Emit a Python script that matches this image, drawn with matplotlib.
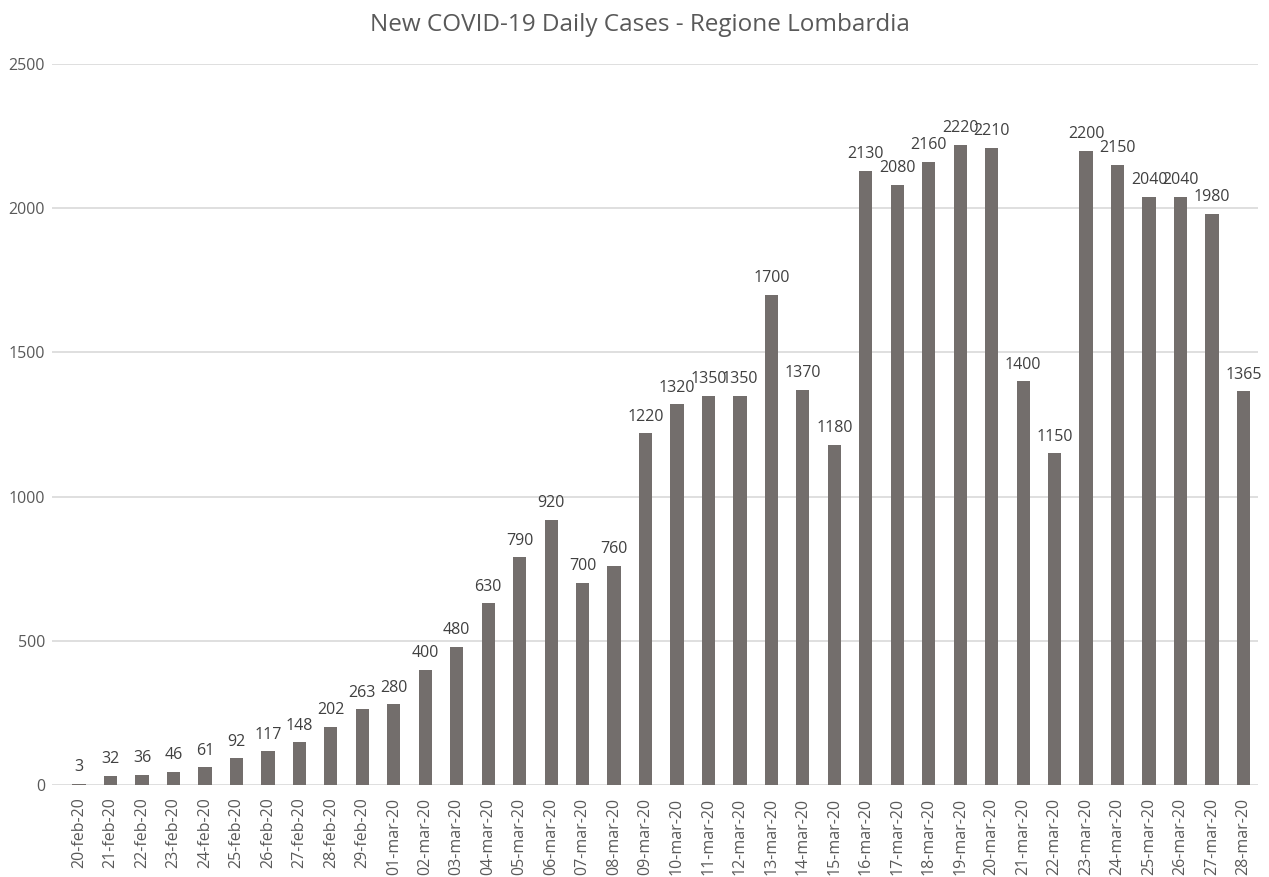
import matplotlib
matplotlib.use("Agg")
import matplotlib.pyplot as plt

dates = [
    "20-feb-20", "21-feb-20", "22-feb-20", "23-feb-20", "24-feb-20", "25-feb-20",
    "26-feb-20", "27-feb-20", "28-feb-20", "29-feb-20", "01-mar-20", "02-mar-20",
    "03-mar-20", "04-mar-20", "05-mar-20", "06-mar-20", "07-mar-20", "08-mar-20",
    "09-mar-20", "10-mar-20", "11-mar-20", "12-mar-20", "13-mar-20", "14-mar-20",
    "15-mar-20", "16-mar-20", "17-mar-20", "18-mar-20", "19-mar-20", "20-mar-20",
    "21-mar-20", "22-mar-20", "23-mar-20", "24-mar-20", "25-mar-20", "26-mar-20",
    "27-mar-20", "28-mar-20",
]
new_cases = [
    3, 32, 36, 46, 61, 92, 117, 148, 202, 263, 280, 400, 480, 630, 790, 920, 700,
    760, 1220, 1320, 1350, 1350, 1700, 1370, 1180, 2130, 2080, 2160, 2220, 2210,
    1400, 1150, 2200, 2150, 2040, 2040, 1980, 1365,
]
y_ticks = [0, 500, 1000, 1500, 2000, 2500]

plt.rcParams["font.family"] = ["Open Sans", "DejaVu Sans"]

fig = plt.figure(figsize=(12.69, 8.77), dpi=100)
ax = fig.add_axes([0.041, 0.1049, 0.950, 0.8221])

x = list(range(len(dates)))
ax.bar(x, new_cases, width=0.42, color="#736e6c", zorder=3)

for xi, v in zip(x, new_cases):
    ax.text(xi, v + 30, str(v), ha="center", va="bottom", fontsize=11.5,
            color="#404040", zorder=4)

ax.set_ylim(0, 2500)
ax.set_xlim(-0.86, 37.45)
ax.set_yticks(y_ticks)
ax.set_yticklabels([str(t) for t in y_ticks])
ax.set_xticks(x)
ax.set_xticklabels(dates, rotation=90)
ax.tick_params(axis="both", length=0, labelsize=11.5, labelcolor="#595959")
ax.tick_params(axis="y", pad=5)
ax.tick_params(axis="x", pad=9)
ax.grid(axis="y", color="#d9d9d9", linewidth=1.2, zorder=0)
for s in ax.spines.values():
    s.set_visible(False)

fig.text(0.5045, 0.972, "New COVID-19 Daily Cases - Regione Lombardia",
         ha="center", va="center", fontsize=17.5, color="#595959")

fig.savefig("out.png", dpi=100)
